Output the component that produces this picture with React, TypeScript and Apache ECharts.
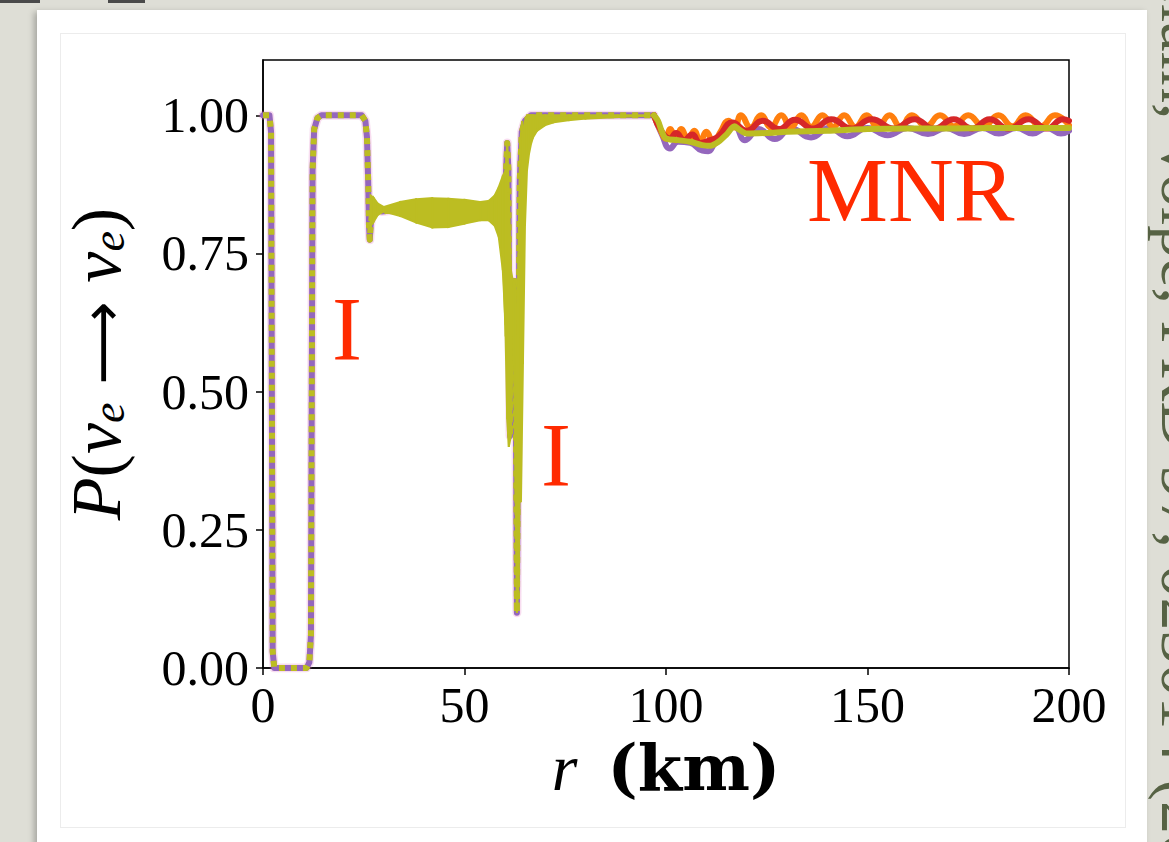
import React, { useEffect, useRef } from "react";
import * as echarts from "echarts";

// ---------------- data ----------------
const xTickValues = [0, 50, 100, 150, 200];
const yTickValues = [0, 0.25, 0.5, 0.75, 1.0];

// main survival-probability trace (r < 97 km), shared by purple / olive
const mainR = [0, 1.6, 2.0, 2.2, 2.4, 2.8, 10.8, 11.5, 11.9, 12.1, 12.3, 12.7, 13.5, 14.5, 24.5, 25.4, 25.8, 26.1, 26.3, 26.5, 26.7, 27.2, 28.0, 29.5, 34, 40, 46, 52, 56, 58, 59.5, 60.2, 60.6, 60.9, 61.1, 61.3, 61.5, 61.8, 62.1, 62.5, 62.8, 63.0, 63.3, 63.7, 64.2, 65, 66.5, 70, 80, 97];
const mainP = [1.0, 1.0, 0.97, 0.5, 0.03, 0.0, 0.0, 0.01, 0.06, 0.5, 0.9, 0.975, 0.995, 1.0, 1.0, 0.99, 0.96, 0.88, 0.8, 0.775, 0.8, 0.83, 0.83, 0.826, 0.83, 0.826, 0.822, 0.826, 0.826, 0.83, 0.84, 0.88, 0.95, 0.9, 0.6, 0.42, 0.55, 0.7, 0.66, 0.7, 0.4, 0.1, 0.45, 0.88, 0.97, 0.99, 1.0, 1.0, 1.0, 1.0];

// oscillation envelopes (fast oscillations fill these bands)
const band1R = [26.7, 27.5, 28.5, 30, 34, 38, 42, 46, 50, 54, 56, 57.5, 58.5, 59.5, 60.2];
const band1Lo = [0.8, 0.808, 0.82, 0.826, 0.818, 0.806, 0.797, 0.798, 0.804, 0.81, 0.81, 0.8, 0.78, 0.72, 0.62];
const band1Hi = [0.855, 0.85, 0.84, 0.834, 0.843, 0.848, 0.85, 0.849, 0.847, 0.843, 0.845, 0.855, 0.87, 0.89, 0.9];

const band3R = [59.5, 60.2, 60.6, 61.0, 61.5, 62.0];
const band3Lo = [0.76, 0.6, 0.45, 0.4, 0.42, 0.6];
const band3Hi = [0.88, 0.9, 0.95, 0.86, 0.72, 0.7];

const band4R = [62.2, 62.7, 63.0, 63.4, 63.8, 64.3];
const band4Lo = [0.6, 0.3, 0.1, 0.15, 0.4, 0.6];
const band4Hi = [0.7, 0.69, 0.55, 0.75, 0.95, 0.99];

const band2R = [64.0, 64.5, 65, 65.5, 66, 66.5, 67, 68, 70, 72, 76, 80, 88, 96];
const band2Lo = [0.3, 0.55, 0.8, 0.9, 0.93, 0.948, 0.96, 0.972, 0.982, 0.987, 0.991, 0.994, 0.997, 0.999];
const band2Hi = [0.85, 0.97, 0.99, 1.0, 1.0, 1.0, 1.0, 1.0, 1.0, 1.0, 1.0, 1.0, 1.0, 1.0];

// MNR region (r >= 97 km)
const oliveR = [97, 98, 99, 100, 103, 106, 109, 111, 113, 115, 117, 118, 120, 125, 130, 140, 150, 160, 170, 180, 190, 200];
const oliveP = [1.0, 0.99, 0.97, 0.958, 0.955, 0.952, 0.946, 0.945, 0.952, 0.965, 0.98, 0.975, 0.967, 0.968, 0.97, 0.972, 0.975, 0.976, 0.976, 0.977, 0.977, 0.977];

const purpleR = [97, 99, 101, 103, 106, 109, 110.5, 112, 115, 117, 119.6, 123, 127, 131, 136, 140.5, 145, 150, 155, 160, 165, 169.5, 174, 178.5, 182.6, 187, 191, 194.5, 198, 200];
const purpleP = [1.0, 0.965, 0.94, 0.952, 0.95, 0.936, 0.935, 0.948, 0.968, 0.98, 0.955, 0.975, 0.957, 0.976, 0.96, 0.977, 0.962, 0.977, 0.964, 0.977, 0.966, 0.977, 0.966, 0.977, 0.967, 0.977, 0.967, 0.977, 0.967, 0.972];

const orangeR = [97, 98.5, 100, 101, 102.5, 103.8, 105.5, 107, 108.5, 110, 111.8, 113.5, 115.5, 117, 118.6, 121, 123.6, 126, 128.6, 131, 133.6, 136, 138.8, 141.5, 144.2, 147, 149.8, 152.5, 155.5, 158.2, 161, 164.5, 168, 171.5, 175, 178.8, 182.5, 186, 189.2, 193, 196.5, 200];
const orangeP = [1.0, 0.975, 0.958, 0.975, 0.955, 0.975, 0.955, 0.972, 0.952, 0.97, 0.95, 0.97, 0.99, 0.978, 1.0, 0.978, 1.0, 0.978, 1.0, 0.978, 1.0, 0.979, 1.0, 0.979, 1.0, 0.979, 1.0, 0.979, 1.0, 0.979, 1.0, 0.98, 1.0, 0.98, 1.0, 0.98, 1.0, 0.98, 1.0, 0.98, 1.0, 0.982];

const redR = [97, 99, 101, 102.5, 104.5, 106.5, 108.5, 111, 113, 116.5, 120, 124, 128, 132, 136.5, 141, 146, 151, 156.5, 161.7, 166.5, 171.4, 176, 180.3, 185, 190, 194.5, 198.5, 200];
const redP = [1.0, 0.97, 0.958, 0.968, 0.955, 0.965, 0.95, 0.955, 0.962, 0.987, 0.972, 0.99, 0.975, 0.992, 0.976, 0.993, 0.976, 0.993, 0.976, 0.993, 0.976, 0.993, 0.976, 0.993, 0.976, 0.993, 0.976, 0.993, 0.99];

const annotationTexts = ["I", "I", "MNR"];
const citation = "Chatelain, Volpe, PRD 97, 023014 (2018)";

// ---------------- helpers ----------------
const PURPLE = "#9467bd";
const OLIVE = "#bcbd22";
const ORANGE = "#ff7f0e";
const RED = "#d62728";
const ANNOT = "#ff2a00";
const SERIF = '"Liberation Serif", "DejaVu Serif", serif';

const pairs = (xs: number[], ys: number[]) => xs.map((x, i) => [x, ys[i]]);

function bandSeries(name: string, rs: number[], lo: number[], hi: number[], z: number) {
  return {
    type: "custom",
    name,
    z,
    clip: true,
    silent: true,
    data: rs.map((r, i) => [r, lo[i], hi[i]]),
    encode: { x: 0, y: [1, 2] },
    renderItem: (params: any, api: any) => {
      const i = params.dataIndex;
      if (i >= rs.length - 1) return { type: "group", children: [] };
      const pts = [
        api.coord([rs[i], hi[i]]),
        api.coord([rs[i + 1], hi[i + 1]]),
        api.coord([rs[i + 1], lo[i + 1]]),
        api.coord([rs[i], lo[i]]),
      ];
      return {
        type: "polygon",
        shape: { points: pts },
        style: { fill: OLIVE, stroke: OLIVE, lineWidth: 2 },
      };
    },
  };
}

function lineSeries(name: string, xs: number[], ys: number[], color: string, width: number, z: number, extra: any = {}, smooth: any = false) {
  return {
    type: "line",
    name,
    z,
    data: pairs(xs, ys),
    showSymbol: false,
    symbol: "none",
    silent: true,
    clip: true,
    smooth,
    lineStyle: { color, width, join: "round", cap: "round", ...extra },
  };
}

export default function App() {
  const ref = useRef<HTMLDivElement>(null);
  useEffect(() => {
    const chart = echarts.init(ref.current!, null, { renderer: "svg" });
    const option: any = {
      animation: false,
      backgroundColor: "transparent",
      grid: {
        left: 263,
        top: 60,
        width: 806,
        height: 608,
        show: true,
        borderColor: "#000",
        borderWidth: 1.5,
        backgroundColor: "transparent",
      },
      xAxis: {
        type: "value",
        min: 0,
        max: 200,
        interval: 50,
        splitLine: { show: false },
        axisLine: { show: true, onZero: false, lineStyle: { color: "#000", width: 1.5 } },
        axisTick: { show: true, inside: false, length: 7, lineStyle: { color: "#000", width: 1.5 } },
        axisLabel: {
          customValues: xTickValues,
          fontFamily: SERIF,
          fontSize: 50,
          color: "#000",
          margin: 12,
        },
        name: "{i|r}  {b|(km)}",
        nameLocation: "middle",
        nameGap: 50,
        nameTextStyle: {
          fontFamily: SERIF,
          fontSize: 60,
          color: "#000",
          rich: {
            i: { fontFamily: SERIF, fontStyle: "italic", fontSize: 66, color: "#000" },
            b: { fontFamily: '"DejaVu Serif", serif', fontWeight: "bold", fontSize: 64, color: "#000" },
          },
        },
      },
      yAxis: {
        type: "value",
        min: 0,
        max: 1.1,
        splitLine: { show: false },
        axisLine: { show: true, onZero: false, lineStyle: { color: "#000", width: 1.5 } },
        axisTick: { show: true, inside: false, length: 7, customValues: yTickValues, lineStyle: { color: "#000", width: 1.5 } },
        axisLabel: {
          customValues: yTickValues,
          formatter: (v: number) => v.toFixed(2),
          fontFamily: SERIF,
          fontSize: 50,
          color: "#000",
          margin: 14,
        },
        name: "{i|P}{n|(}{i|ν}{s|e}{a| ⟶ }{i|ν}{s|e}{n|)}",
        nameLocation: "middle",
        nameGap: 132,
        nameRotate: 90,
        nameTextStyle: {
          fontFamily: SERIF,
          fontSize: 66,
          color: "#000",
          rich: {
            i: { fontFamily: SERIF, fontStyle: "italic", fontSize: 70, color: "#000", lineHeight: 76, verticalAlign: "bottom" },
            n: { fontFamily: SERIF, fontSize: 70, color: "#000", lineHeight: 76, verticalAlign: "bottom" },
            a: { fontFamily: '"DejaVu Sans", sans-serif', fontSize: 58, color: "#000", lineHeight: 76, verticalAlign: "bottom" },
            s: { fontFamily: SERIF, fontStyle: "italic", fontSize: 46, color: "#000", lineHeight: 34, verticalAlign: "bottom" },
          },
        },
      },
      series: [
        lineSeries("halo", mainR, mainP, "rgba(227,119,194,0.25)", 9, 1),
        lineSeries("purple", mainR, mainP, PURPLE, 6, 2),
        lineSeries("olive", mainR, mainP, OLIVE, 6, 3, { type: [6, 6], cap: "butt" }),
        bandSeries("band1", band1R, band1Lo, band1Hi, 4),
        bandSeries("band3", band3R, band3Lo, band3Hi, 4),
        bandSeries("band4", band4R, band4Lo, band4Hi, 4),
        bandSeries("band2", band2R, band2Lo, band2Hi, 4),
        lineSeries("purple MNR", purpleR, purpleP, PURPLE, 6, 5, {}, 0.5),
        lineSeries("orange MNR", orangeR, orangeP, ORANGE, 6, 6, {}, 0.5),
        lineSeries("red MNR", redR, redP, RED, 6, 7, {}, 0.5),
        lineSeries("olive MNR", oliveR, oliveP, OLIVE, 6, 8, {}, 0.3),
      ],
      graphic: [
        {
          type: "text",
          x: 347,
          y: 329,
          z: 100,
          style: { text: annotationTexts[0], fill: ANNOT, font: `90px ${SERIF}`, align: "center", verticalAlign: "middle" },
        },
        {
          type: "text",
          x: 556,
          y: 455,
          z: 100,
          style: { text: annotationTexts[1], fill: ANNOT, font: `90px ${SERIF}`, align: "center", verticalAlign: "middle" },
        },
        {
          type: "text",
          x: 807,
          y: 190,
          z: 100,
          style: { text: annotationTexts[2], fill: ANNOT, font: `91px ${SERIF}`, align: "left", verticalAlign: "middle" },
        },
        {
          type: "text",
          x: 1151,
          y: -150,
          rotation: -Math.PI / 2,
          z: 100,
          style: { text: citation, fill: "#566244", font: `66px ${SERIF}`, align: "left", verticalAlign: "bottom" },
        },
      ],
    };
    chart.setOption(option);
    return () => chart.dispose();
  }, []);

  return (
    <div style={{ position: "fixed", left: 0, top: 0, width: 1169, height: 842, overflow: "hidden", background: "#deded6" }}>
      <div style={{ position: "absolute", left: 0, top: 0, width: 40, height: 3, background: "#4a4a4a" }} />
      <div style={{ position: "absolute", left: 108, top: 0, width: 37, height: 3, background: "#4a4a4a" }} />
      <div
        style={{
          position: "absolute",
          left: 37,
          top: 10,
          width: 1110,
          height: 860,
          background: "#fff",
          boxShadow: "-3px 2px 6px rgba(0,0,0,0.25)",
        }}
      />
      <div
        style={{
          position: "absolute",
          left: 60,
          top: 33,
          width: 1066,
          height: 795,
          border: "1px solid #ececec",
          boxSizing: "border-box",
        }}
      />
      <div ref={ref} style={{ position: "absolute", left: 0, top: 0, width: 1169, height: 842 }} />
    </div>
  );
}
